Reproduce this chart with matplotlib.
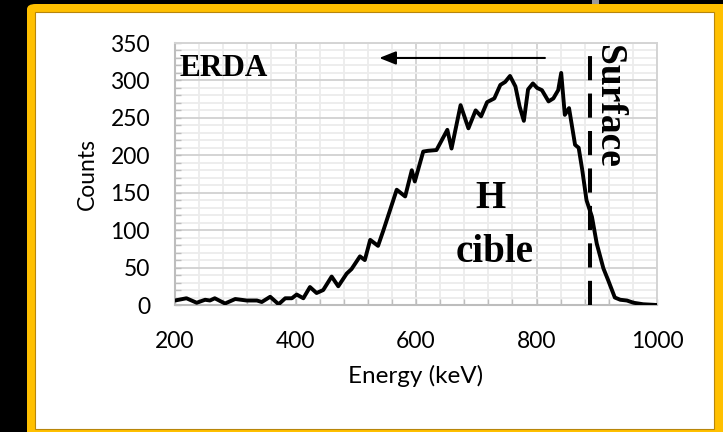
import matplotlib.pyplot as plt
from matplotlib.patches import Rectangle, FancyBboxPatch
from matplotlib.ticker import MultipleLocator

# ERDA spectrum
energy = [200, 219, 236, 250, 258, 266, 283, 300, 319, 336, 344, 358, 372, 383, 394,
          402, 413, 424, 435, 446, 460, 471, 485, 493, 507, 515, 524, 537, 546, 557,
          568, 582, 593, 598, 612, 620, 634, 652, 659, 674, 687, 699, 708, 718, 730,
          740, 748, 756, 765, 772, 779, 786, 794, 801, 809, 820, 828, 836, 841, 847,
          854, 864, 870, 876, 883, 892, 900, 911, 919, 930, 939, 950, 961, 977, 1000]
counts = [6, 9, 3, 7, 6, 9, 2, 8, 6, 6, 4, 11, 1, 9, 9,
          14, 9, 24, 16, 20, 38, 25, 42, 48, 65, 60, 87, 79, 100, 127,
          154, 145, 180, 165, 205, 206, 207, 234, 209, 267, 236, 260, 252, 271, 276,
          294, 298, 306, 292, 265, 246, 288, 296, 290, 287, 272, 276, 287, 310, 254,
          263, 214, 210, 180, 140, 118, 82, 49, 33, 10, 7, 6, 3, 1, 0]
surface_energy = 888

fig = plt.figure(figsize=(7.23, 4.32), dpi=100, facecolor="black")
W, H = 723.0, 432.0

# slide frame: gold border round a white panel
frame = FancyBboxPatch((27 / W, -0.05), 1.1, 1 - 4 / H + 0.05,
                       boxstyle="round,pad=0,rounding_size=0.012",
                       transform=fig.transFigure, facecolor="#FFC000",
                       edgecolor="none", zorder=-10)
fig.patches.append(frame)
fig.patches.append(Rectangle((35 / W, 3 / H), (714 - 35) / W, (420 - 3) / H,
                             transform=fig.transFigure, facecolor="white",
                             edgecolor="#B8860B", linewidth=0.8, zorder=-9))
fig.patches.append(Rectangle((592 / W, 1 - 4 / H), 7 / W, 4 / H,
                             transform=fig.transFigure, facecolor="#9a9a9a",
                             edgecolor="none", zorder=-9))

ax = fig.add_axes([175 / W, 127 / H, 482 / W, 262 / H])
ax.set_facecolor("white")

ax.plot(energy, counts, color="black", linewidth=2.8, solid_joinstyle="round",
        solid_capstyle="round", zorder=3)
ax.axvline(surface_energy, color="black", linewidth=2.9, dashes=(6, 3.3),
           dash_capstyle="butt", zorder=4)

ax.set_xlim(200, 1000)
ax.set_ylim(0, 350)
ax.xaxis.set_major_locator(MultipleLocator(200))
ax.xaxis.set_minor_locator(MultipleLocator(40))
ax.yaxis.set_major_locator(MultipleLocator(50))
ax.yaxis.set_minor_locator(MultipleLocator(10))
ax.set_axisbelow(True)
ax.grid(which="major", color="#d4d4d4", linewidth=1.4)
ax.grid(which="minor", color="#ececec", linewidth=1.3)

for side in ["top", "right"]:
    ax.spines[side].set_color("#d4d4d4")
    ax.spines[side].set_linewidth(1.4)
for side in ["left", "bottom"]:
    ax.spines[side].set_color("#bdbdbd")
    ax.spines[side].set_linewidth(1.5)

ax.tick_params(which="both", direction="in", color="#bdbdbd", width=1.0, length=4.5)
ax.tick_params(axis="y", which="major", pad=18)
ax.tick_params(axis="x", which="major", pad=19)
for lab in ax.get_xticklabels() + ax.get_yticklabels():
    lab.set_fontfamily("Lato")
    lab.set_fontsize(16.5)
    lab.set_color("black")

ax.set_xlabel("Energy (keV)", fontfamily="Lato", fontsize=17.5, labelpad=9)
ax.set_ylabel("Counts", fontfamily="Lato", fontsize=16.5, labelpad=9)

serif = "Liberation Serif"
ax.text(208, (305 - 76) * 350 / 262, "ERDA", fontfamily=serif, fontweight="bold",
        fontsize=22.5, ha="left", va="baseline")
ax.text(723, 129, "H", fontfamily=serif, fontweight="bold", fontsize=28,
        ha="center", va="baseline")
ax.text(731, 57, "cible", fontfamily=serif, fontweight="bold", fontsize=28,
        ha="center", va="baseline")
ax.text(920, 265, "Surface", fontfamily=serif, fontweight="bold", fontsize=27,
        rotation=270, ha="center", va="center")
ax.annotate("", xy=(539, 330), xytext=(814, 330),
            arrowprops=dict(arrowstyle="-|>,head_length=1.0,head_width=0.4",
                            color="black", linewidth=1.5, shrinkA=0, shrinkB=0))

fig.savefig("out.png", dpi=100, facecolor="black")
